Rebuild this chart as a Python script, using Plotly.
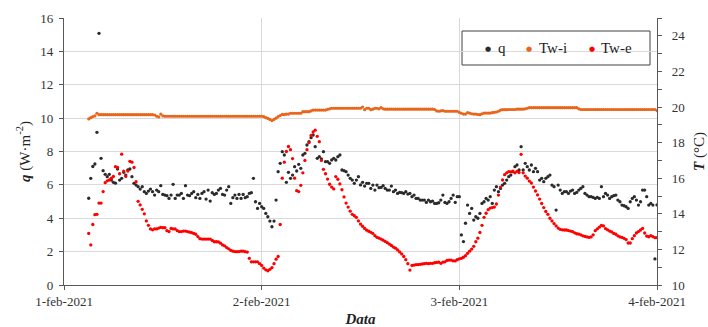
import pandas as pd
import plotly.graph_objects as go

# 15-minute readings, 1 Feb 2021 03:00 -> 4 Feb 2021 00:00
times = pd.date_range("2021-02-01 03:00", "2021-02-04 00:00", freq="15min")

# heat flux q (W/m2), left axis
q = [
    5.2, 6.39, 7.1, 7.25, 9.15, 15.08, 7.59, 6.85,
    6.63, 6.49, 6.63, 6.29, 6.15, 6.1, 6.95, 6.29,
    6.39, 6.75, 6.59, 6.89, 6.95, 6.49, 6.09, 5.99,
    5.89, 5.75, 5.89, 5.59, 5.49, 5.63, 5.75, 5.59,
    5.39, 5.69, 5.59, 5.95, 5.43, 5.39, 5.35, 5.19,
    5.39, 6.03, 5.19, 5.39, 5.39, 5.49, 5.19, 5.95,
    5.39, 5.35, 5.49, 5.59, 5.23, 5.43, 5.19, 5.49,
    5.59, 5.15, 5.69, 5.03, 5.53, 5.43, 5.49, 5.69,
    5.79, 5.43, 5.39, 5.69, 5.89, 4.89, 5.23, 5.39,
    5.19, 5.43, 5.19, 5.43, 5.23, 5.29, 5.49, 5.53,
    6.39, 4.99, 4.59, 4.89, 4.69, 4.59, 4.29, 4.09,
    3.83, 3.49, 3.83, 5.09, 6.79, 7.29, 7.99, 7.79,
    6.15, 6.75, 6.39, 6.59, 7.09, 6.83, 7.23, 6.99,
    7.79, 7.89, 8.39, 8.59, 8.83, 8.99, 8.29, 7.59,
    7.69, 7.55, 7.99, 7.39, 7.39, 7.29, 7.49, 7.59,
    7.49, 7.69, 7.79, 6.89, 6.85, 6.79, 6.59, 6.39,
    6.29, 6.09, 6.29, 6.49, 6.0, 6.15, 5.93, 6.09,
    6.09, 5.79, 5.99, 5.69, 5.99, 5.83, 5.85, 5.95,
    5.79, 5.69, 5.69, 5.93, 5.59, 5.69, 5.49, 5.55,
    5.53, 5.49, 5.59, 5.45, 5.49, 5.29, 5.39, 5.19,
    5.19, 5.09, 5.09, 5.09, 4.95, 5.09, 4.99, 5.03,
    4.89, 4.89, 4.93, 5.09, 5.39, 4.95, 4.89, 4.99,
    5.19, 5.39, 4.95, 5.29, 5.29, 3.0, 2.6, 3.7,
    4.79, 4.29, 4.59, 3.89, 4.09, 4.0, 4.29, 4.89,
    4.99, 5.19, 5.09, 5.29, 4.89, 5.69, 5.89, 5.59,
    5.79, 5.99, 6.09, 6.29, 6.49, 6.59, 6.79, 7.09,
    7.19, 6.89, 8.29, 6.89, 7.29, 7.09, 6.89, 7.19,
    6.79, 6.99, 6.79, 6.29, 6.39, 6.19, 6.39, 6.49,
    6.59, 5.99, 5.89, 4.49, 5.99, 5.69, 5.49, 5.59,
    5.59, 5.49, 5.63, 5.69, 5.49, 5.55, 5.69, 5.79,
    5.89, 5.49, 5.39, 5.29, 5.29, 5.25, 5.19, 5.25,
    5.19, 5.89, 5.29, 5.49, 5.39, 5.19, 5.29, 5.35,
    5.39, 5.09, 4.99, 4.79, 4.75, 4.69, 4.59, 4.99,
    5.19, 5.29, 5.09, 4.79, 4.99, 5.69, 5.69, 5.29,
    4.79, 4.89, 4.79, 1.56,
    4.8,
]

# inner wall surface temperature Tw-i (degC), right axis
tw_i = [
    19.33, 19.4, 19.46, 19.5, 19.65, 19.57, 19.57, 19.57,
    19.57, 19.57, 19.57, 19.57, 19.57, 19.57, 19.57, 19.57,
    19.57, 19.57, 19.57, 19.57, 19.57, 19.57, 19.57, 19.57,
    19.57, 19.57, 19.57, 19.57, 19.57, 19.57, 19.57, 19.57,
    19.55, 19.48, 19.44, 19.6, 19.5, 19.48, 19.48, 19.48,
    19.48, 19.48, 19.48, 19.48, 19.48, 19.48, 19.48, 19.48,
    19.48, 19.48, 19.48, 19.48, 19.48, 19.48, 19.48, 19.48,
    19.48, 19.48, 19.48, 19.48, 19.48, 19.48, 19.48, 19.48,
    19.48, 19.48, 19.48, 19.48, 19.48, 19.48, 19.48, 19.48,
    19.48, 19.48, 19.48, 19.48, 19.48, 19.48, 19.48, 19.48,
    19.48, 19.48, 19.48, 19.48, 19.48, 19.46, 19.4, 19.36,
    19.3, 19.24, 19.3, 19.37, 19.46, 19.52, 19.59, 19.57,
    19.6, 19.6, 19.65, 19.65, 19.65, 19.65, 19.65, 19.65,
    19.74, 19.74, 19.74, 19.74, 19.78, 19.83, 19.83, 19.83,
    19.83, 19.83, 19.83, 19.83, 19.87, 19.9, 19.93, 19.93,
    19.93, 19.93, 19.93, 19.93, 19.93, 19.93, 19.93, 19.93,
    19.93, 19.93, 19.93, 19.93, 19.93, 20.0, 19.85, 19.93,
    19.93, 19.85, 19.88, 19.93, 19.93, 19.9, 19.97, 19.9,
    19.88, 19.88, 19.88, 19.88, 19.88, 19.88, 19.88, 19.88,
    19.88, 19.88, 19.88, 19.88, 19.88, 19.88, 19.88, 19.88,
    19.88, 19.88, 19.88, 19.88, 19.88, 19.88, 19.88, 19.88,
    19.86, 19.78, 19.76, 19.78, 19.8, 19.76, 19.76, 19.76,
    19.76, 19.76, 19.76, 19.76, 19.7, 19.65, 19.6, 19.6,
    19.68, 19.66, 19.62, 19.6, 19.6, 19.58, 19.57, 19.62,
    19.66, 19.66, 19.66, 19.66, 19.68, 19.7, 19.72, 19.76,
    19.83, 19.85, 19.85, 19.85, 19.86, 19.86, 19.86, 19.86,
    19.88, 19.88, 19.88, 19.88, 19.9, 19.93, 19.96, 19.96,
    19.96, 19.96, 19.96, 19.96, 19.96, 19.96, 19.96, 19.96,
    19.96, 19.96, 19.96, 19.96, 19.96, 19.96, 19.96, 19.96,
    19.96, 19.96, 19.96, 19.96, 19.96, 19.96, 19.9, 19.86,
    19.86, 19.86, 19.86, 19.86, 19.86, 19.86, 19.86, 19.86,
    19.86, 19.86, 19.86, 19.86, 19.86, 19.86, 19.86, 19.86,
    19.86, 19.86, 19.86, 19.86, 19.86, 19.86, 19.86, 19.86,
    19.86, 19.86, 19.86, 19.86, 19.86, 19.86, 19.86, 19.86,
    19.86, 19.86, 19.86, 19.86,
    19.8,
]

# outer wall surface temperature Tw-e (degC), right axis
tw_e = [
    12.9, 12.25, 13.4, 13.95, 13.97, 14.6, 14.6, 15.25,
    15.75, 15.85, 15.9, 16.0, 16.1, 16.65, 16.6, 16.25,
    17.35, 16.4, 16.1, 16.4, 16.95, 16.9, 16.6, 15.8,
    14.7, 14.5, 14.25, 14.0, 13.6, 13.35, 13.15, 13.1,
    13.15, 13.15, 13.2, 13.24, 13.22, 13.22, 13.05, 13.0,
    13.18, 13.15, 13.15, 13.05, 13.0, 13.0, 13.03, 13.03,
    13.0, 12.97, 12.94, 12.9, 12.85, 12.72, 12.6, 12.58,
    12.58, 12.58, 12.58, 12.58, 12.5, 12.43, 12.43, 12.42,
    12.35, 12.25, 12.2, 12.1, 12.03, 11.95, 11.9, 11.88,
    11.87, 11.88, 11.9, 11.9, 11.87, 11.85, 11.5, 11.3,
    11.3, 11.3, 11.3, 11.2, 11.1, 10.95, 10.85, 10.8,
    10.88, 10.98, 11.2, 11.45, 11.6, 13.4, 16.0, 16.9,
    17.5, 17.78, 17.6, 17.1, 16.0, 15.3, 15.25, 15.6,
    16.3, 17.0, 17.6, 18.0, 18.4, 18.6, 18.7, 18.35,
    18.05, 17.0, 16.5, 16.25, 15.95, 15.66, 15.5, 15.4,
    16.09, 15.94, 15.68, 15.35, 14.95, 14.6, 14.38, 14.15,
    13.97, 13.89, 13.8, 13.6, 13.42, 13.3, 13.18, 13.08,
    13.02, 12.96, 12.9, 12.77, 12.68, 12.63, 12.58, 12.52,
    12.45, 12.38, 12.3, 12.22, 12.13, 12.07, 11.97, 11.86,
    11.75, 11.6, 11.42, 11.2, 10.84, 11.1, 11.12, 11.14,
    11.15, 11.16, 11.18, 11.2, 11.22, 11.2, 11.22, 11.22,
    11.25, 11.27, 11.28, 11.22, 11.28, 11.3, 11.38, 11.4,
    11.4, 11.36, 11.35, 11.42, 11.47, 11.5, 11.56, 11.65,
    11.78, 11.9, 12.02, 12.17, 12.43, 12.63, 12.95, 13.35,
    13.8, 14.03, 14.23, 14.32, 14.35, 14.38, 14.55, 15.05,
    15.5, 15.9, 16.2, 16.3, 16.37, 16.35, 16.4, 16.3,
    16.38, 16.32, 17.34, 16.3, 16.12, 16.0, 15.84, 15.73,
    15.5, 15.28, 15.06, 14.83, 14.58, 14.35, 14.13, 13.97,
    13.75, 13.6, 13.45, 13.32, 13.2, 13.13, 13.1, 13.09,
    13.09, 13.06, 13.03, 13.0, 12.93, 12.88, 12.86, 12.82,
    12.76, 12.73, 12.7, 12.67, 12.7, 12.82, 13.05, 13.15,
    13.25, 13.35, 13.32, 13.17, 13.1, 13.03, 12.98, 12.9,
    12.85, 12.76, 12.7, 12.67, 12.62, 12.55, 12.36, 12.36,
    12.6, 12.77, 12.92, 13.0, 13.09, 13.18, 12.92, 12.75,
    12.71, 12.77, 12.72, 12.66,
    12.66,
]

assert len(q) == len(tw_i) == len(tw_e) == len(times)

day_ticks = ["2021-02-01", "2021-02-02", "2021-02-03", "2021-02-04"]
day_labels = ["1-feb-2021", "2-feb-2021", "3-feb-2021", "4-feb-2021"]
q_ticks = [0, 2, 4, 6, 8, 10, 12, 14, 16]
t_ticks = [10, 12, 14, 16, 18, 20, 22, 24]

BLACK = "#2b2b2b"
ORANGE = "#EA6419"
RED = "#FF0000"
AXIS = "#595959"
GRID = "#d9d9d9"
SERIF = "Liberation Serif, Times New Roman, serif"

W, H = 708, 327
ML, MR, MT, MB = 64, 51, 18, 42


def px_x(px):
    return (px - ML) / (W - ML - MR)


def px_y(py):
    return (H - MB - py) / (H - MT - MB)


fig = go.Figure()
fig.add_trace(go.Scatter(
    x=times, y=q, name="q", mode="markers",
    marker=dict(color=BLACK, size=3.3), yaxis="y"))
fig.add_trace(go.Scatter(
    x=times, y=tw_i, name="Tw-i", mode="markers",
    marker=dict(color=ORANGE, size=3.2), yaxis="y2"))
fig.add_trace(go.Scatter(
    x=times, y=tw_e, name="Tw-e", mode="markers",
    marker=dict(color=RED, size=3.3), yaxis="y2"))

# legend box with entries
legend_entries = [("q", BLACK, 488, 496), ("Tw-i", ORANGE, 529, 537), ("Tw-e", RED, 592, 599)]
annotations = []
for label, color, dot_px, text_px in legend_entries:
    annotations.append(dict(
        xref="paper", yref="paper", x=px_x(dot_px), y=px_y(49.5), text="●",
        showarrow=False, xanchor="center", yanchor="middle",
        font=dict(family="DejaVu Sans", size=7, color=color)))
    annotations.append(dict(
        xref="paper", yref="paper", x=px_x(text_px), y=px_y(48.5), text=label,
        showarrow=False, xanchor="left", yanchor="middle",
        font=dict(family=SERIF, size=15, color="#222")))

fig.update_layout(
    width=W, height=H,
    margin=dict(l=ML, r=MR, t=MT, b=MB),
    paper_bgcolor="white", plot_bgcolor="white",
    showlegend=False,
    font=dict(family=SERIF, size=13, color="#333"),
    xaxis=dict(
        type="date", range=[day_ticks[0], day_ticks[-1]],
        tickvals=day_ticks, ticktext=day_labels,
        automargin=False,
        showgrid=True, gridcolor=GRID, gridwidth=1,
        showline=True, linecolor=AXIS, linewidth=1.3,
        ticks="outside", ticklen=4, tickcolor=AXIS,
        ticklabelstandoff=0,
        tickfont=dict(family=SERIF, size=13, color="#333"),
        title=dict(text="<b><i>Data</i></b>", font=dict(family=SERIF, size=15, color="#222"),
                   standoff=10),
        zeroline=False,
    ),
    yaxis=dict(
        range=[0, 16], tickvals=q_ticks,
        automargin=False,
        showgrid=True, gridcolor=GRID, gridwidth=1,
        showline=True, linecolor=AXIS, linewidth=1.3,
        ticks="outside", ticklen=4, tickcolor=AXIS,
        ticklabelstandoff=3,
        tickfont=dict(family=SERIF, size=13, color="#333"),
        title=dict(text="<b><i>q</i></b> (W·m<sup>-2</sup>)",
                   font=dict(family=SERIF, size=15, color="#222"), standoff=6),
        zeroline=False,
    ),
    yaxis2=dict(
        overlaying="y", side="right", anchor="x",
        range=[10, 25], tickvals=t_ticks,
        automargin=False,
        showgrid=False,
        showline=True, linecolor=AXIS, linewidth=1.3,
        ticks="outside", ticklen=4, tickcolor=AXIS,
        minor=dict(dtick=1, ticks="outside", ticklen=4, tickcolor=AXIS, showgrid=False),
        tickfont=dict(family=SERIF, size=13, color="#333"),
        ticklabelstandoff=7,
        title=dict(text="<b><i>T</i></b> (°C)",
                   font=dict(family=SERIF, size=15, color="#222"), standoff=13),
        zeroline=False,
    ),
    shapes=[dict(
        type="rect", xref="paper", yref="paper",
        x0=px_x(462), x1=px_x(650), y0=px_y(65), y1=px_y(31),
        line=dict(color="#404040", width=1), fillcolor="white", layer="below")],
    annotations=annotations,
)

fig.write_html("out.html", config={"displayModeBar": False})
